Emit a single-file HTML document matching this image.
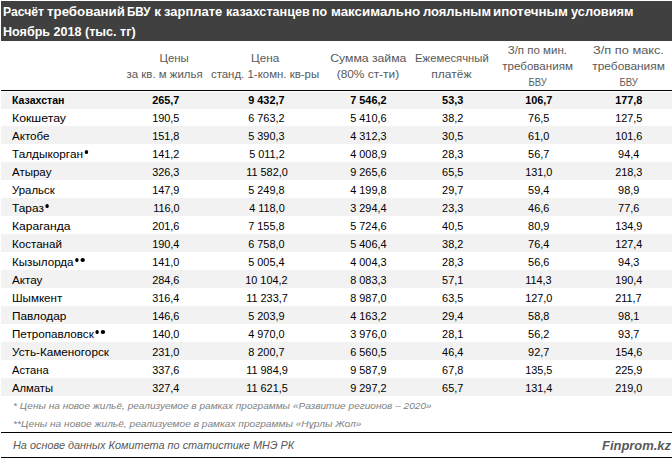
<!DOCTYPE html>
<html><head><meta charset="utf-8"><style>
html,body{margin:0;padding:0;background:#fff;overflow:hidden;}
body{width:672px;height:458px;position:relative;overflow:hidden;font-family:"Liberation Sans",sans-serif;color:#000;}
.title{position:absolute;left:1px;top:1px;width:671px;height:40px;background:#404040;}
.t{position:absolute;height:0;white-space:nowrap;line-height:0;}
.t span{display:inline-block;}
.l span{transform-origin:0 0;}
.c{width:400px;text-align:center;}
.c span{transform-origin:50% 0;}
.b{font-weight:bold;}
.i{font-style:italic;}
.w{color:#fff;}
.h{color:#595959;}
.f{color:#7f7f7f;}
.d{display:inline-block;width:3.5px;height:3.5px;border-radius:50%;background:#000;margin-left:1.3px;vertical-align:baseline;position:relative;top:-4.5px;}
.d2{margin-left:2.3px;}
.bg{position:absolute;left:1px;width:671px;background:#f2f2f2;}
.line{position:absolute;left:1px;width:671px;background:#000;}
</style></head><body>
<div class="title"></div>
<div class="t l b w" style="left:3.30px;top:12.22px;font-size:13.5px;"><span style="transform:scaleX(0.903)">Расчёт</span></div>
<div class="t l b w" style="left:46.90px;top:12.22px;font-size:13.5px;"><span style="transform:scaleX(0.985)">требований</span></div>
<div class="t l b w" style="left:127.00px;top:12.22px;font-size:13.5px;"><span style="transform:scaleX(0.86)">БВУ</span></div>
<div class="t l b w" style="left:154.30px;top:12.22px;font-size:13.5px;"><span style="transform:scaleX(1.0)">к</span></div>
<div class="t l b w" style="left:164.40px;top:12.22px;font-size:13.5px;"><span style="transform:scaleX(0.96)">зарплате</span></div>
<div class="t l b w" style="left:225.60px;top:12.22px;font-size:13.5px;"><span style="transform:scaleX(0.936)">казахстанцев</span></div>
<div class="t l b w" style="left:312.00px;top:12.22px;font-size:13.5px;"><span style="transform:scaleX(0.92)">по</span></div>
<div class="t l b w" style="left:331.20px;top:12.22px;font-size:13.5px;"><span style="transform:scaleX(0.988)">максимально</span></div>
<div class="t l b w" style="left:422.50px;top:12.22px;font-size:13.5px;"><span style="transform:scaleX(0.959)">лояльным</span></div>
<div class="t l b w" style="left:493.00px;top:12.22px;font-size:13.5px;"><span style="transform:scaleX(0.99)">ипотечным</span></div>
<div class="t l b w" style="left:570.90px;top:12.22px;font-size:13.5px;"><span style="transform:scaleX(0.95)">условиям</span></div>
<div class="t l b w" style="left:3.30px;top:32.22px;font-size:13.5px;"><span style="transform:scaleX(0.931)">Ноябрь 2018 (тыс. тг)</span></div>
<div class="t c h" style="left:-25.70px;top:58.09px;font-size:11.0px;"><span style="transform:scaleX(1.04)">Цены</span></div>
<div class="t c h" style="left:-35.50px;top:73.99px;font-size:11.0px;"><span style="transform:scaleX(1.04)">за кв. м жилья</span></div>
<div class="t c h" style="left:65.70px;top:58.09px;font-size:11.0px;"><span style="transform:scaleX(1.07)">Цена</span></div>
<div class="t c h" style="left:65.30px;top:73.99px;font-size:11.0px;"><span style="transform:scaleX(1.04)">станд. 1-комн. кв-ры</span></div>
<div class="t c h" style="left:168.50px;top:58.09px;font-size:11.0px;"><span style="transform:scaleX(1.11)">Сумма займа</span></div>
<div class="t c h" style="left:168.30px;top:73.99px;font-size:11.0px;"><span style="transform:scaleX(1.08)">(80% ст-ти)</span></div>
<div class="t c h" style="left:251.50px;top:58.09px;font-size:11.0px;"><span style="transform:scaleX(1.026)">Ежемесячный</span></div>
<div class="t c h" style="left:251.70px;top:73.99px;font-size:11.0px;"><span style="transform:scaleX(1.09)">платёж</span></div>
<div class="t c h" style="left:337.50px;top:50.09px;font-size:11.0px;"><span style="transform:scaleX(1.046)">З/п по мин.</span></div>
<div class="t c h" style="left:337.90px;top:65.99px;font-size:11.0px;"><span style="transform:scaleX(1.05)">требованиям</span></div>
<div class="t c h" style="left:337.70px;top:81.99px;font-size:11.0px;"><span style="transform:scaleX(0.87)">БВУ</span></div>
<div class="t c h" style="left:428.50px;top:50.09px;font-size:11.0px;"><span style="transform:scaleX(1.16)">З/п по макс.</span></div>
<div class="t c h" style="left:428.20px;top:65.99px;font-size:11.0px;"><span style="transform:scaleX(1.08)">требованиям</span></div>
<div class="t c h" style="left:428.30px;top:81.99px;font-size:11.0px;"><span style="transform:scaleX(0.87)">БВУ</span></div>
<div class="bg" style="top:92px;height:17px"></div>
<div class="bg" style="top:126px;height:18px"></div>
<div class="bg" style="top:162px;height:18px"></div>
<div class="bg" style="top:198px;height:18px"></div>
<div class="bg" style="top:234px;height:18px"></div>
<div class="bg" style="top:270px;height:18px"></div>
<div class="bg" style="top:306px;height:18px"></div>
<div class="bg" style="top:342px;height:18px"></div>
<div class="bg" style="top:378px;height:18px"></div>
<div class="t l b" style="left:12.20px;top:100.09px;font-size:11.0px;"><span style="transform:scaleX(0.9604)">Казахстан</span></div>
<div class="t c b" style="left:-34.10px;top:100.09px;font-size:11.0px;"><span style="transform:scaleX(0.99)">265,7</span></div>
<div class="t c b" style="left:66.60px;top:100.09px;font-size:11.0px;"><span style="transform:scaleX(0.99)">9 432,7</span></div>
<div class="t c b" style="left:168.50px;top:100.09px;font-size:11.0px;"><span style="transform:scaleX(0.99)">7 546,2</span></div>
<div class="t c b" style="left:252.60px;top:100.09px;font-size:11.0px;"><span style="transform:scaleX(0.99)">53,3</span></div>
<div class="t c b" style="left:338.80px;top:100.09px;font-size:11.0px;"><span style="transform:scaleX(0.99)">106,7</span></div>
<div class="t c b" style="left:428.80px;top:100.09px;font-size:11.0px;"><span style="transform:scaleX(0.99)">177,8</span></div>
<div class="t l " style="left:12.20px;top:118.09px;font-size:11.0px;"><span style="transform:scaleX(1.1167)">Кокшетау</span></div>
<div class="t c " style="left:-34.10px;top:118.09px;font-size:11.0px;"><span style="transform:scaleX(0.99)">190,5</span></div>
<div class="t c " style="left:66.60px;top:118.09px;font-size:11.0px;"><span style="transform:scaleX(0.99)">6 763,2</span></div>
<div class="t c " style="left:168.50px;top:118.09px;font-size:11.0px;"><span style="transform:scaleX(0.99)">5 410,6</span></div>
<div class="t c " style="left:252.60px;top:118.09px;font-size:11.0px;"><span style="transform:scaleX(0.99)">38,2</span></div>
<div class="t c " style="left:338.80px;top:118.09px;font-size:11.0px;"><span style="transform:scaleX(0.99)">76,5</span></div>
<div class="t c " style="left:428.80px;top:118.09px;font-size:11.0px;"><span style="transform:scaleX(0.99)">127,5</span></div>
<div class="t l " style="left:12.20px;top:136.09px;font-size:11.0px;"><span style="transform:scaleX(1.0541)">Актобе</span></div>
<div class="t c " style="left:-34.10px;top:136.09px;font-size:11.0px;"><span style="transform:scaleX(0.99)">151,8</span></div>
<div class="t c " style="left:66.60px;top:136.09px;font-size:11.0px;"><span style="transform:scaleX(0.99)">5 390,3</span></div>
<div class="t c " style="left:168.50px;top:136.09px;font-size:11.0px;"><span style="transform:scaleX(0.99)">4 312,3</span></div>
<div class="t c " style="left:252.60px;top:136.09px;font-size:11.0px;"><span style="transform:scaleX(0.99)">30,5</span></div>
<div class="t c " style="left:338.80px;top:136.09px;font-size:11.0px;"><span style="transform:scaleX(0.99)">61,0</span></div>
<div class="t c " style="left:428.80px;top:136.09px;font-size:11.0px;"><span style="transform:scaleX(0.99)">101,6</span></div>
<div class="t l " style="left:12.20px;top:154.09px;font-size:11.0px;"><span style="transform:scaleX(1.0714)">Талдыкорган<i class="d"></i></span></div>
<div class="t c " style="left:-34.10px;top:154.09px;font-size:11.0px;"><span style="transform:scaleX(0.99)">141,2</span></div>
<div class="t c " style="left:66.60px;top:154.09px;font-size:11.0px;"><span style="transform:scaleX(0.99)">5 011,2</span></div>
<div class="t c " style="left:168.50px;top:154.09px;font-size:11.0px;"><span style="transform:scaleX(0.99)">4 008,9</span></div>
<div class="t c " style="left:252.60px;top:154.09px;font-size:11.0px;"><span style="transform:scaleX(0.99)">28,3</span></div>
<div class="t c " style="left:338.80px;top:154.09px;font-size:11.0px;"><span style="transform:scaleX(0.99)">56,7</span></div>
<div class="t c " style="left:428.80px;top:154.09px;font-size:11.0px;"><span style="transform:scaleX(0.99)">94,4</span></div>
<div class="t l " style="left:12.20px;top:172.09px;font-size:11.0px;"><span style="transform:scaleX(1.0465)">Атырау</span></div>
<div class="t c " style="left:-34.10px;top:172.09px;font-size:11.0px;"><span style="transform:scaleX(0.99)">326,3</span></div>
<div class="t c " style="left:66.60px;top:172.09px;font-size:11.0px;"><span style="transform:scaleX(0.99)">11 582,0</span></div>
<div class="t c " style="left:168.50px;top:172.09px;font-size:11.0px;"><span style="transform:scaleX(0.99)">9 265,6</span></div>
<div class="t c " style="left:252.60px;top:172.09px;font-size:11.0px;"><span style="transform:scaleX(0.99)">65,5</span></div>
<div class="t c " style="left:338.80px;top:172.09px;font-size:11.0px;"><span style="transform:scaleX(0.99)">131,0</span></div>
<div class="t c " style="left:428.80px;top:172.09px;font-size:11.0px;"><span style="transform:scaleX(0.99)">218,3</span></div>
<div class="t l " style="left:12.20px;top:190.09px;font-size:11.0px;"><span style="transform:scaleX(1.0368)">Уральск</span></div>
<div class="t c " style="left:-34.10px;top:190.09px;font-size:11.0px;"><span style="transform:scaleX(0.99)">147,9</span></div>
<div class="t c " style="left:66.60px;top:190.09px;font-size:11.0px;"><span style="transform:scaleX(0.99)">5 249,8</span></div>
<div class="t c " style="left:168.50px;top:190.09px;font-size:11.0px;"><span style="transform:scaleX(0.99)">4 199,8</span></div>
<div class="t c " style="left:252.60px;top:190.09px;font-size:11.0px;"><span style="transform:scaleX(0.99)">29,7</span></div>
<div class="t c " style="left:338.80px;top:190.09px;font-size:11.0px;"><span style="transform:scaleX(0.99)">59,4</span></div>
<div class="t c " style="left:428.80px;top:190.09px;font-size:11.0px;"><span style="transform:scaleX(0.99)">98,9</span></div>
<div class="t l " style="left:12.20px;top:208.09px;font-size:11.0px;"><span style="transform:scaleX(1.08)">Тараз<i class="d"></i></span></div>
<div class="t c " style="left:-34.10px;top:208.09px;font-size:11.0px;"><span style="transform:scaleX(0.99)">116,0</span></div>
<div class="t c " style="left:66.60px;top:208.09px;font-size:11.0px;"><span style="transform:scaleX(0.99)">4 118,0</span></div>
<div class="t c " style="left:168.50px;top:208.09px;font-size:11.0px;"><span style="transform:scaleX(0.99)">3 294,4</span></div>
<div class="t c " style="left:252.60px;top:208.09px;font-size:11.0px;"><span style="transform:scaleX(0.99)">23,3</span></div>
<div class="t c " style="left:338.80px;top:208.09px;font-size:11.0px;"><span style="transform:scaleX(0.99)">46,6</span></div>
<div class="t c " style="left:428.80px;top:208.09px;font-size:11.0px;"><span style="transform:scaleX(0.99)">77,6</span></div>
<div class="t l " style="left:12.20px;top:226.09px;font-size:11.0px;"><span style="transform:scaleX(1.0973)">Караганда</span></div>
<div class="t c " style="left:-34.10px;top:226.09px;font-size:11.0px;"><span style="transform:scaleX(0.99)">201,6</span></div>
<div class="t c " style="left:66.60px;top:226.09px;font-size:11.0px;"><span style="transform:scaleX(0.99)">7 155,8</span></div>
<div class="t c " style="left:168.50px;top:226.09px;font-size:11.0px;"><span style="transform:scaleX(0.99)">5 724,6</span></div>
<div class="t c " style="left:252.60px;top:226.09px;font-size:11.0px;"><span style="transform:scaleX(0.99)">40,5</span></div>
<div class="t c " style="left:338.80px;top:226.09px;font-size:11.0px;"><span style="transform:scaleX(0.99)">80,9</span></div>
<div class="t c " style="left:428.80px;top:226.09px;font-size:11.0px;"><span style="transform:scaleX(0.99)">134,9</span></div>
<div class="t l " style="left:12.20px;top:244.09px;font-size:11.0px;"><span style="transform:scaleX(1.053)">Костанай</span></div>
<div class="t c " style="left:-34.10px;top:244.09px;font-size:11.0px;"><span style="transform:scaleX(0.99)">190,4</span></div>
<div class="t c " style="left:66.60px;top:244.09px;font-size:11.0px;"><span style="transform:scaleX(0.99)">6 758,0</span></div>
<div class="t c " style="left:168.50px;top:244.09px;font-size:11.0px;"><span style="transform:scaleX(0.99)">5 406,4</span></div>
<div class="t c " style="left:252.60px;top:244.09px;font-size:11.0px;"><span style="transform:scaleX(0.99)">38,2</span></div>
<div class="t c " style="left:338.80px;top:244.09px;font-size:11.0px;"><span style="transform:scaleX(0.99)">76,4</span></div>
<div class="t c " style="left:428.80px;top:244.09px;font-size:11.0px;"><span style="transform:scaleX(0.99)">127,4</span></div>
<div class="t l " style="left:12.20px;top:262.09px;font-size:11.0px;"><span style="transform:scaleX(1.0552)">Кызылорда<i class="d"></i><i class="d d2"></i></span></div>
<div class="t c " style="left:-34.10px;top:262.09px;font-size:11.0px;"><span style="transform:scaleX(0.99)">141,0</span></div>
<div class="t c " style="left:66.60px;top:262.09px;font-size:11.0px;"><span style="transform:scaleX(0.99)">5 005,4</span></div>
<div class="t c " style="left:168.50px;top:262.09px;font-size:11.0px;"><span style="transform:scaleX(0.99)">4 004,3</span></div>
<div class="t c " style="left:252.60px;top:262.09px;font-size:11.0px;"><span style="transform:scaleX(0.99)">28,3</span></div>
<div class="t c " style="left:338.80px;top:262.09px;font-size:11.0px;"><span style="transform:scaleX(0.99)">56,6</span></div>
<div class="t c " style="left:428.80px;top:262.09px;font-size:11.0px;"><span style="transform:scaleX(0.99)">94,3</span></div>
<div class="t l " style="left:12.20px;top:280.09px;font-size:11.0px;"><span style="transform:scaleX(1.0616)">Актау</span></div>
<div class="t c " style="left:-34.10px;top:280.09px;font-size:11.0px;"><span style="transform:scaleX(0.99)">284,6</span></div>
<div class="t c " style="left:66.60px;top:280.09px;font-size:11.0px;"><span style="transform:scaleX(0.99)">10 104,2</span></div>
<div class="t c " style="left:168.50px;top:280.09px;font-size:11.0px;"><span style="transform:scaleX(0.99)">8 083,3</span></div>
<div class="t c " style="left:252.60px;top:280.09px;font-size:11.0px;"><span style="transform:scaleX(0.99)">57,1</span></div>
<div class="t c " style="left:338.80px;top:280.09px;font-size:11.0px;"><span style="transform:scaleX(0.99)">114,3</span></div>
<div class="t c " style="left:428.80px;top:280.09px;font-size:11.0px;"><span style="transform:scaleX(0.99)">190,4</span></div>
<div class="t l " style="left:12.20px;top:298.09px;font-size:11.0px;"><span style="transform:scaleX(1.053)">Шымкент</span></div>
<div class="t c " style="left:-34.10px;top:298.09px;font-size:11.0px;"><span style="transform:scaleX(0.99)">316,4</span></div>
<div class="t c " style="left:66.60px;top:298.09px;font-size:11.0px;"><span style="transform:scaleX(0.99)">11 233,7</span></div>
<div class="t c " style="left:168.50px;top:298.09px;font-size:11.0px;"><span style="transform:scaleX(0.99)">8 987,0</span></div>
<div class="t c " style="left:252.60px;top:298.09px;font-size:11.0px;"><span style="transform:scaleX(0.99)">63,5</span></div>
<div class="t c " style="left:338.80px;top:298.09px;font-size:11.0px;"><span style="transform:scaleX(0.99)">127,0</span></div>
<div class="t c " style="left:428.80px;top:298.09px;font-size:11.0px;"><span style="transform:scaleX(0.99)">211,7</span></div>
<div class="t l " style="left:12.20px;top:316.09px;font-size:11.0px;"><span style="transform:scaleX(1.0724)">Павлодар</span></div>
<div class="t c " style="left:-34.10px;top:316.09px;font-size:11.0px;"><span style="transform:scaleX(0.99)">146,6</span></div>
<div class="t c " style="left:66.60px;top:316.09px;font-size:11.0px;"><span style="transform:scaleX(0.99)">5 203,9</span></div>
<div class="t c " style="left:168.50px;top:316.09px;font-size:11.0px;"><span style="transform:scaleX(0.99)">4 163,2</span></div>
<div class="t c " style="left:252.60px;top:316.09px;font-size:11.0px;"><span style="transform:scaleX(0.99)">29,4</span></div>
<div class="t c " style="left:338.80px;top:316.09px;font-size:11.0px;"><span style="transform:scaleX(0.99)">58,8</span></div>
<div class="t c " style="left:428.80px;top:316.09px;font-size:11.0px;"><span style="transform:scaleX(0.99)">98,1</span></div>
<div class="t l " style="left:12.20px;top:334.09px;font-size:11.0px;"><span style="transform:scaleX(1.0573)">Петропавловск<i class="d"></i><i class="d d2"></i></span></div>
<div class="t c " style="left:-34.10px;top:334.09px;font-size:11.0px;"><span style="transform:scaleX(0.99)">140,0</span></div>
<div class="t c " style="left:66.60px;top:334.09px;font-size:11.0px;"><span style="transform:scaleX(0.99)">4 970,0</span></div>
<div class="t c " style="left:168.50px;top:334.09px;font-size:11.0px;"><span style="transform:scaleX(0.99)">3 976,0</span></div>
<div class="t c " style="left:252.60px;top:334.09px;font-size:11.0px;"><span style="transform:scaleX(0.99)">28,1</span></div>
<div class="t c " style="left:338.80px;top:334.09px;font-size:11.0px;"><span style="transform:scaleX(0.99)">56,2</span></div>
<div class="t c " style="left:428.80px;top:334.09px;font-size:11.0px;"><span style="transform:scaleX(0.99)">93,7</span></div>
<div class="t l " style="left:12.20px;top:352.09px;font-size:11.0px;"><span style="transform:scaleX(1.066)">Усть-Каменогорск</span></div>
<div class="t c " style="left:-34.10px;top:352.09px;font-size:11.0px;"><span style="transform:scaleX(0.99)">231,0</span></div>
<div class="t c " style="left:66.60px;top:352.09px;font-size:11.0px;"><span style="transform:scaleX(0.99)">8 200,7</span></div>
<div class="t c " style="left:168.50px;top:352.09px;font-size:11.0px;"><span style="transform:scaleX(0.99)">6 560,5</span></div>
<div class="t c " style="left:252.60px;top:352.09px;font-size:11.0px;"><span style="transform:scaleX(0.99)">46,4</span></div>
<div class="t c " style="left:338.80px;top:352.09px;font-size:11.0px;"><span style="transform:scaleX(0.99)">92,7</span></div>
<div class="t c " style="left:428.80px;top:352.09px;font-size:11.0px;"><span style="transform:scaleX(0.99)">154,6</span></div>
<div class="t l " style="left:12.20px;top:370.09px;font-size:11.0px;"><span style="transform:scaleX(1.0152)">Астана</span></div>
<div class="t c " style="left:-34.10px;top:370.09px;font-size:11.0px;"><span style="transform:scaleX(0.99)">337,6</span></div>
<div class="t c " style="left:66.60px;top:370.09px;font-size:11.0px;"><span style="transform:scaleX(0.99)">11 984,9</span></div>
<div class="t c " style="left:168.50px;top:370.09px;font-size:11.0px;"><span style="transform:scaleX(0.99)">9 587,9</span></div>
<div class="t c " style="left:252.60px;top:370.09px;font-size:11.0px;"><span style="transform:scaleX(0.99)">67,8</span></div>
<div class="t c " style="left:338.80px;top:370.09px;font-size:11.0px;"><span style="transform:scaleX(0.99)">135,5</span></div>
<div class="t c " style="left:428.80px;top:370.09px;font-size:11.0px;"><span style="transform:scaleX(0.99)">225,9</span></div>
<div class="t l " style="left:12.20px;top:388.09px;font-size:11.0px;"><span style="transform:scaleX(1.0217)">Алматы</span></div>
<div class="t c " style="left:-34.10px;top:388.09px;font-size:11.0px;"><span style="transform:scaleX(0.99)">327,4</span></div>
<div class="t c " style="left:66.60px;top:388.09px;font-size:11.0px;"><span style="transform:scaleX(0.99)">11 621,5</span></div>
<div class="t c " style="left:168.50px;top:388.09px;font-size:11.0px;"><span style="transform:scaleX(0.99)">9 297,2</span></div>
<div class="t c " style="left:252.60px;top:388.09px;font-size:11.0px;"><span style="transform:scaleX(0.99)">65,7</span></div>
<div class="t c " style="left:338.80px;top:388.09px;font-size:11.0px;"><span style="transform:scaleX(0.99)">131,4</span></div>
<div class="t c " style="left:428.80px;top:388.09px;font-size:11.0px;"><span style="transform:scaleX(0.99)">219,0</span></div>
<div class="t l i f" style="left:12.50px;top:405.91px;font-size:9.2px;"><span style="transform:scaleX(1.098)">* Цены на новое жильё, реализуемое в рамках программы «Развитие регионов – 2020»</span></div>
<div class="t l i f" style="left:12.50px;top:424.01px;font-size:9.2px;"><span style="transform:scaleX(1.105)">**Цены на новое жильё, реализуемое в рамках программы «Нұрлы Жол»</span></div>
<div class="t l i h" style="left:13.00px;top:444.59px;font-size:11px;"><span style="transform:scaleX(0.99)">На основе данных Комитета по статистике МНЭ РК</span></div>
<div class="t l i b h" style="left:602.30px;top:445.90px;font-size:13px;"><span style="transform:scaleX(0.995)">Finprom.kz</span></div>

<div class="line" style="top:90px;height:1px"></div>
<div class="line" style="top:432px;height:1px"></div>
<div class="line" style="top:457px;height:1px"></div>
</body></html>
